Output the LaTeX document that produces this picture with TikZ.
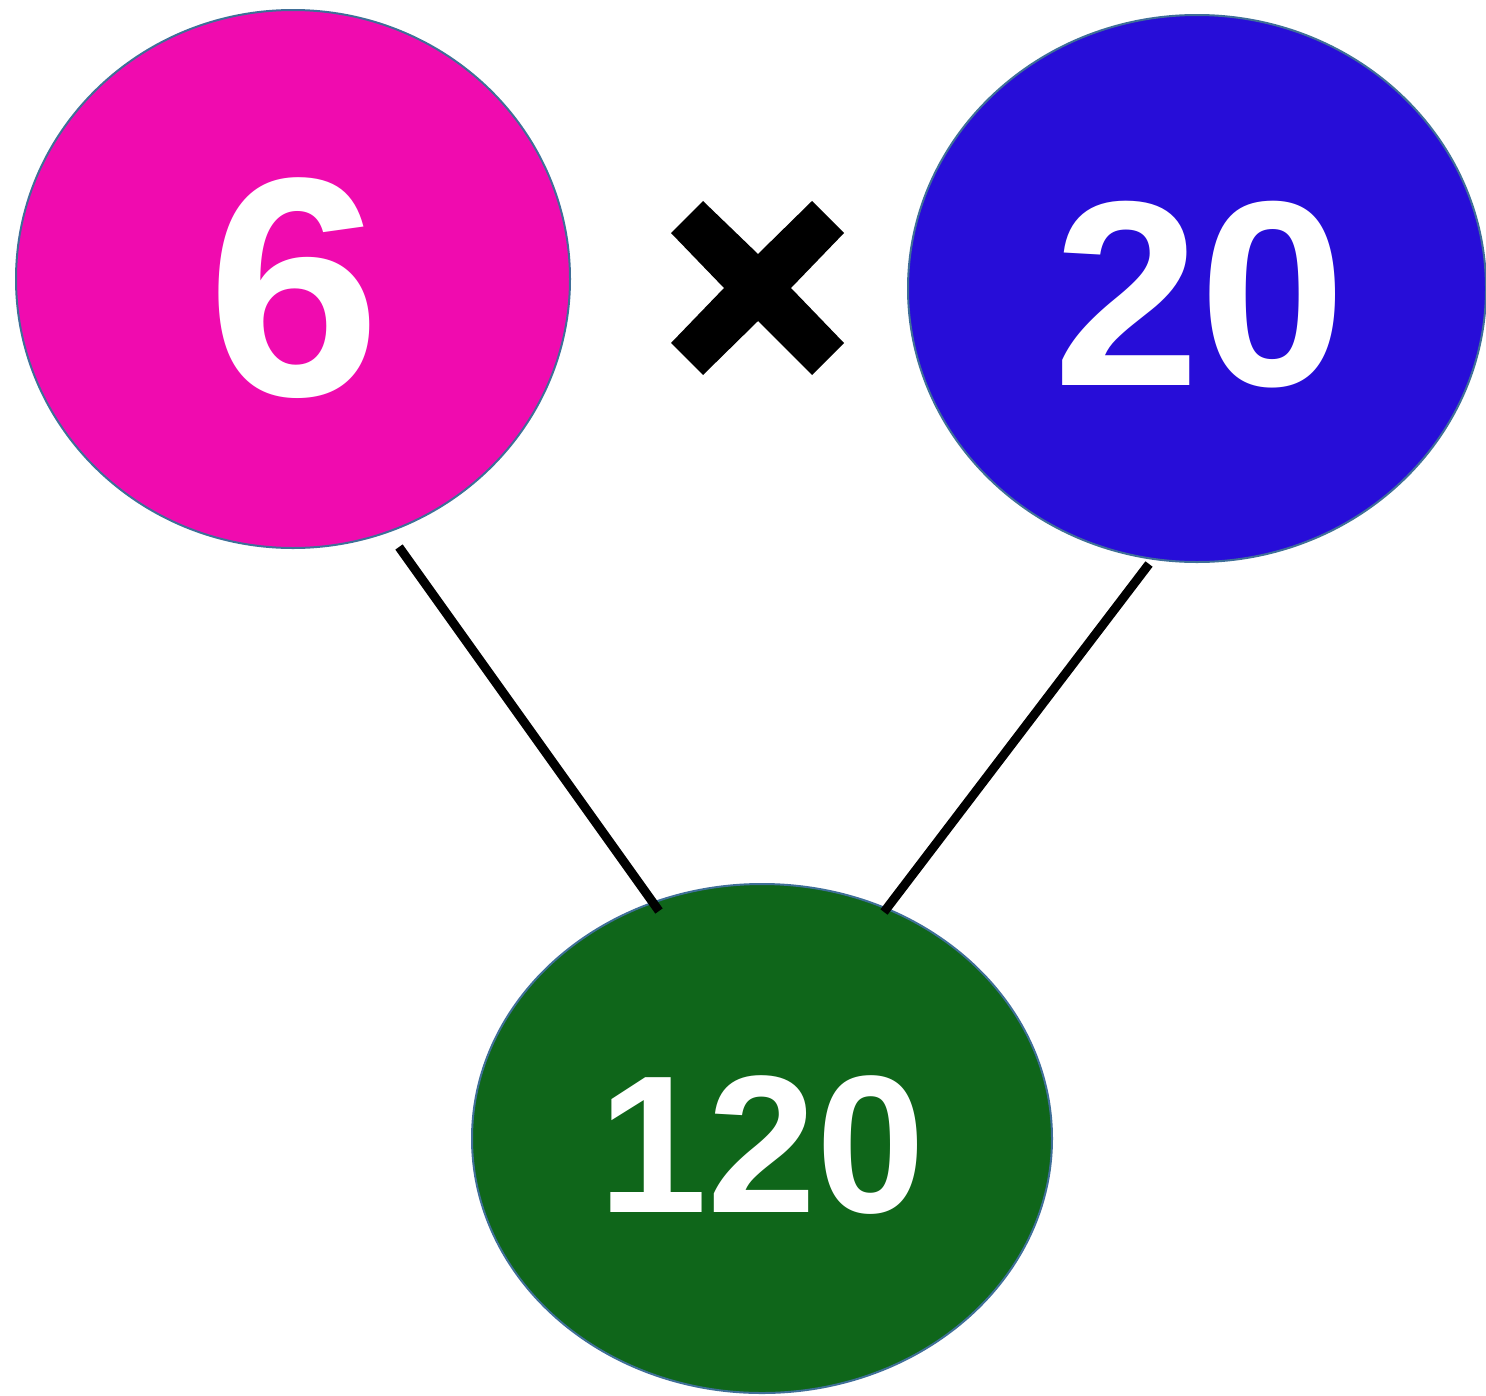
\documentclass[tikz,border=0pt]{standalone}
\usepackage{fontspec}
\setmainfont{Liberation Sans}
\usetikzlibrary{shapes.geometric}
\definecolor{pinkc}{HTML}{F00BAF}
\definecolor{bluec}{HTML}{270DD8}
\definecolor{greenc}{HTML}{0F661A}
\definecolor{rimc}{HTML}{3F6F98}
\tikzset{
  blob/.style={ellipse, draw=rimc, line width=2pt, inner sep=0pt, text=white, font=\bfseries},
  link/.style={line width=9pt, line cap=butt, black}
}
\begin{document}
\begin{tikzpicture}[x=1pt,y=-1pt]
\useasboundingbox (0,0) rectangle (1486,1395);
\node[blob, fill=pinkc, minimum width=554pt, minimum height=538pt] (six) at (293,279) {};
\node[blob, fill=bluec, minimum width=578pt, minimum height=547pt] (twenty) at (1197,288.5) {};
\node[blob, fill=greenc, minimum width=580pt, minimum height=509pt] (res) at (762,1138.5) {};
\node[text=white, font=\fontsize{312}{312}\bfseries\selectfont, inner sep=0pt] (t6) at (294,288.5) {6};
\node[text=white, font=\fontsize{264}{264}\bfseries\selectfont, inner sep=0pt] (t20) at (1200,295) {20};
\node[text=white, font=\fontsize{196}{196}\bfseries\selectfont, inner sep=0pt] (t120) at (762,1145) {120};
\fill[black] (671,233) -- (703,201) -- (758,254) -- (812,201) -- (844,233) -- (791,288)
  -- (844,343) -- (812,375) -- (758,321) -- (703,375) -- (671,343) -- (724,288) -- cycle;
\coordinate (a1) at (399,547);
\coordinate (a2) at (659,911);
\coordinate (b1) at (1149,564);
\coordinate (b2) at (884,912);
\draw[link] (a1) -- (a2);
\draw[link] (b1) -- (b2);
\end{tikzpicture}
\end{document}
